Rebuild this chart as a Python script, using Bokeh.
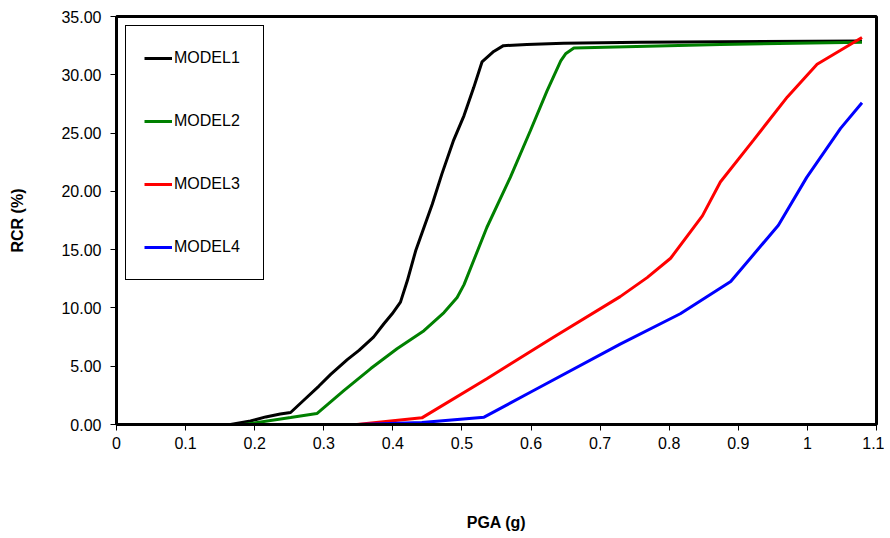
from bokeh.plotting import figure
from bokeh.models import FixedTicker, NumeralTickFormatter, Legend, LegendItem, Range1d
from bokeh.embed import file_html
from bokeh.resources import INLINE

# ---- data ----
m1_x = [0.035, 0.165, 0.194, 0.216, 0.237, 0.252, 0.271, 0.293, 0.310, 0.334, 0.351, 0.372, 0.387,
        0.399, 0.411, 0.421, 0.433, 0.445, 0.457, 0.471, 0.488, 0.503, 0.517, 0.529, 0.546, 0.560,
        0.594, 0.647, 0.758, 1.079]
m1_y = [0, 0, 0.3, 0.65, 0.9, 1.03, 2.08, 3.3, 4.3, 5.56, 6.36, 7.5, 8.64,
        9.5, 10.5, 12.35, 14.9, 16.9, 18.9, 21.5, 24.4, 26.5, 28.9, 31.1, 32.0, 32.5,
        32.6, 32.7, 32.8, 32.9]

m2_x = [0.035, 0.184, 0.252, 0.290, 0.329, 0.368, 0.406, 0.445, 0.474, 0.493, 0.503, 0.536,
        0.570, 0.599, 0.623, 0.643, 0.650, 0.662, 0.874, 1.079]
m2_y = [0, 0, 0.6, 0.94, 2.9, 4.8, 6.5, 8.05, 9.6, 10.9, 12.0, 16.9,
        21.2, 25.2, 28.6, 31.2, 31.8, 32.3, 32.6, 32.8]

m3_x = [0.035, 0.348, 0.442, 0.536, 0.633, 0.729, 0.768, 0.802, 0.848, 0.874, 0.922, 0.971,
        1.014, 1.048, 1.079]
m3_y = [0, 0, 0.57, 3.93, 7.5, 10.97, 12.6, 14.26, 17.9, 20.8, 24.4, 28.1,
        30.9, 32.1, 33.2]

m4_x = [0.035, 0.350, 0.442, 0.532, 0.599, 0.729, 0.816, 0.889, 0.958, 0.999, 1.048, 1.079]
m4_y = [0, 0, 0.17, 0.63, 2.77, 6.9, 9.5, 12.26, 17.1, 21.2, 25.4, 27.6]

series_names = ["MODEL1", "MODEL2", "MODEL3", "MODEL4"]
series_colors = ["#000000", "#008000", "#FF0000", "#0000FF"]

x_ticks = [0, 0.1, 0.2, 0.3, 0.4, 0.5, 0.6, 0.7, 0.8, 0.9, 1.0, 1.1]
x_tick_labels = ["0", "0.1", "0.2", "0.3", "0.4", "0.5", "0.6", "0.7", "0.8", "0.9", "1", "1.1"]
y_ticks = [0, 5, 10, 15, 20, 25, 30, 35]

FONT = "Liberation Sans"

p = figure(width=884, height=534, output_backend="svg", toolbar_location=None,
           x_range=Range1d(0, 1.1), y_range=Range1d(0, 35),
           min_border_left=116, min_border_right=8, min_border_top=16, min_border_bottom=110)

p.xgrid.visible = False
p.ygrid.visible = False
p.outline_line_color = "black"
p.outline_line_width = 3
p.outline_line_alpha = 1.0
p.background_fill_color = "white"
p.border_fill_color = "white"

renderers = []
for xs, ys, c in zip([m1_x, m2_x, m3_x, m4_x], [m1_y, m2_y, m3_y, m4_y], series_colors):
    r = p.line(xs, ys, line_color=c, line_width=3)
    renderers.append(r)

# axes
p.xaxis.ticker = FixedTicker(ticks=x_ticks)
p.xaxis.major_label_overrides = {t: l for t, l in zip(x_ticks, x_tick_labels)}
p.yaxis.ticker = FixedTicker(ticks=y_ticks)
p.yaxis.formatter = NumeralTickFormatter(format="0.00")

for ax in (p.xaxis[0], p.yaxis[0]):
    ax.axis_line_color = "black"
    ax.axis_line_width = 3
    ax.major_tick_line_color = "black"
    ax.major_tick_line_width = 1
    ax.major_tick_out = 6
    ax.major_tick_in = 0
    ax.minor_tick_line_color = None
    ax.major_label_text_font = FONT
    ax.major_label_text_font_size = "16px"
    ax.major_label_text_color = "black"
    ax.axis_label_text_font = FONT
    ax.axis_label_text_font_size = "16px"
    ax.axis_label_text_font_style = "bold"
    ax.axis_label_text_color = "black"

p.xaxis.axis_label = "PGA (g)"
p.xaxis.major_label_standoff = 6
p.xaxis.axis_label_standoff = 62
p.yaxis.axis_label = "RCR (%)"
p.yaxis.major_label_standoff = 9
p.yaxis.axis_label_standoff = 32

legend = Legend(items=[LegendItem(label=n, renderers=[r]) for n, r in zip(series_names, renderers)],
                location=(9, 144))
legend.border_line_color = "black"
legend.border_line_width = 1
legend.border_line_alpha = 1.0
legend.background_fill_color = "white"
legend.background_fill_alpha = 1
legend.padding = 18
legend.spacing = 35
legend.margin = 0
legend.glyph_width = 28
legend.glyph_height = 28
legend.label_height = 28
legend.label_width = 71
legend.label_standoff = 2
legend.label_text_font = FONT
legend.label_text_font_size = "16px"
legend.label_text_color = "black"
p.add_layout(legend, "center")

open("out.html", "w").write(file_html(p, INLINE))
